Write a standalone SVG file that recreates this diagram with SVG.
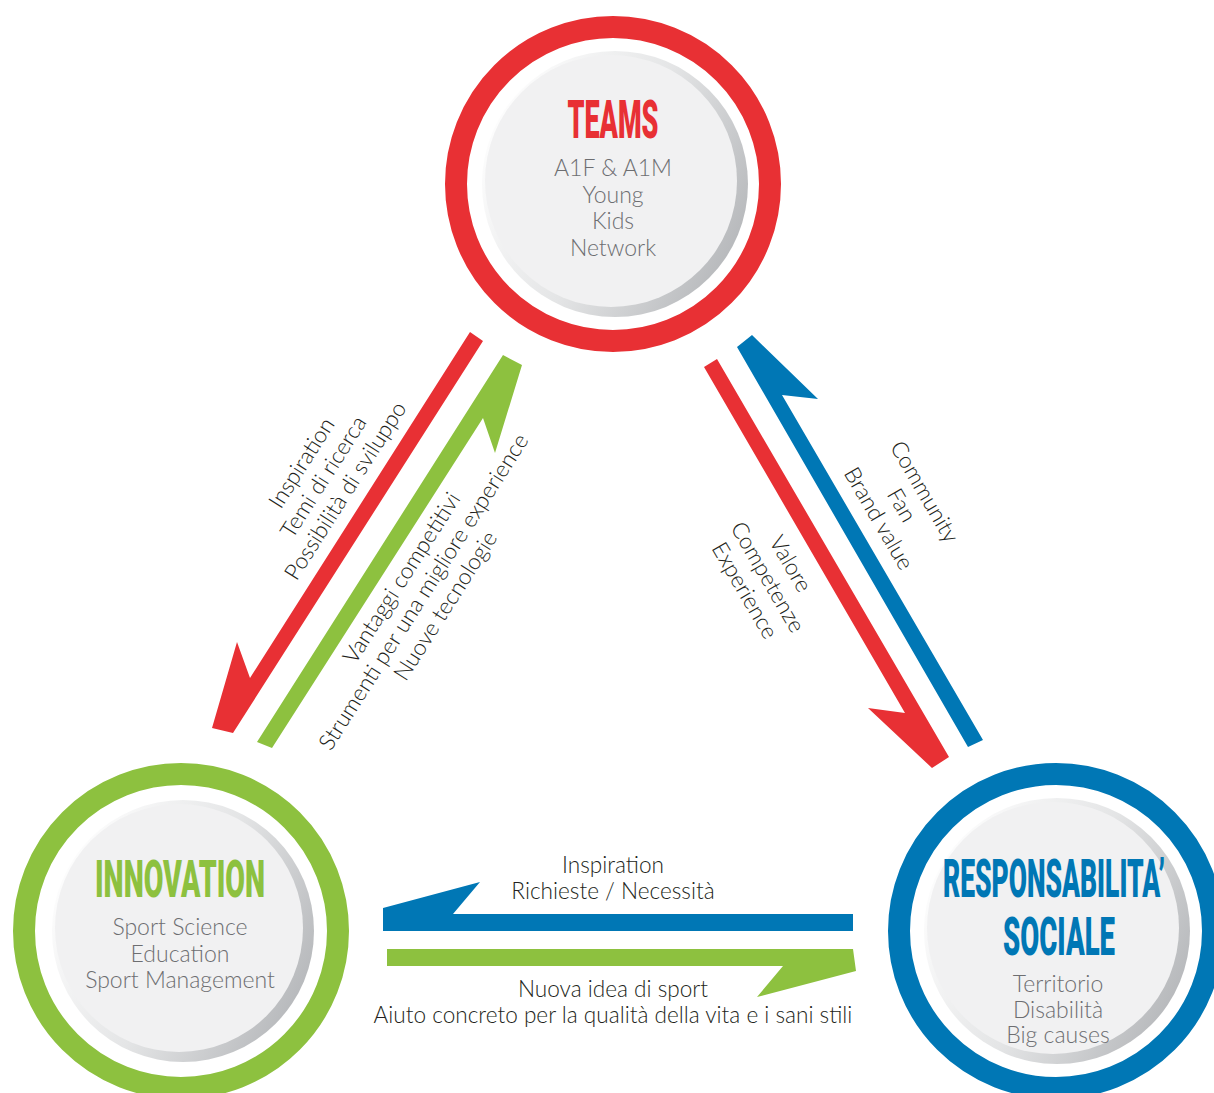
<svg xmlns="http://www.w3.org/2000/svg" width="1214" height="1093" viewBox="0 0 1214 1093">
<style>
.ring{fill:none;stroke-width:22}
.r{stroke:#e83034}.g{stroke:#8dc13f}.b{stroke:#0077b5}
.head{font-family:Roboto,"DejaVu Sans",sans-serif;font-weight:900;text-anchor:middle}
.sub{font-family:Lato,"Open Sans",sans-serif;font-weight:300;font-size:23px;fill:#6d6e71;text-anchor:middle}
.lbl{font-family:Lato,"Open Sans",sans-serif;font-weight:300;font-size:22.6px;fill:#231f20;text-anchor:middle}
</style>
<defs>
<linearGradient id="rim" x1="0" y1="0.25" x2="1" y2="0.75">
<stop offset="0" stop-color="#ffffff"/>
<stop offset="0.5" stop-color="#e4e5e6"/>
<stop offset="1" stop-color="#b3b5b8"/>
</linearGradient>
</defs>
<rect width="1214" height="1093" fill="#ffffff"/>

<g id="teams">
<circle class="ring r" cx="613" cy="184" r="157"/>
<circle cx="615" cy="184" r="133" fill="url(#rim)"/>
<circle cx="611" cy="181" r="126" fill="#f1f1f2"/>
<text class="head" x="613" y="138" font-size="53" fill="#e83034" textLength="91" lengthAdjust="spacingAndGlyphs">TEAMS</text>
<text class="sub" x="613" y="176">A1F &amp; A1M</text>
<text class="sub" x="613" y="202.5">Young</text>
<text class="sub" x="613" y="229">Kids</text>
<text class="sub" x="613" y="255.5">Network</text>
</g>

<g id="innovation">
<circle class="ring g" cx="181" cy="931" r="157"/>
<circle cx="183" cy="931" r="131" fill="url(#rim)"/>
<circle cx="179" cy="928" r="124" fill="#f1f1f2"/>
<text class="head" x="180" y="897" font-size="52" fill="#8dc13f" textLength="170" lengthAdjust="spacingAndGlyphs">INNOVATION</text>
<text class="sub" x="180" y="935" font-size="23.5">Sport Science</text>
<text class="sub" x="180" y="962" font-size="23.5">Education</text>
<text class="sub" x="180" y="988" font-size="23.5">Sport Management</text>
</g>

<g id="responsabilita">
<circle class="ring b" cx="1056" cy="931" r="157"/>
<circle cx="1057" cy="931" r="133" fill="url(#rim)"/>
<circle cx="1053" cy="928" r="126" fill="#f1f1f2"/>
<text class="head" x="1054" y="897" font-size="54" fill="#0077b5" textLength="222" lengthAdjust="spacingAndGlyphs">RESPONSABILITA’</text>
<text class="head" x="1059" y="955" font-size="54" fill="#0077b5" textLength="112" lengthAdjust="spacingAndGlyphs">SOCIALE</text>
<text class="sub" x="1058" y="992">Territorio</text>
<text class="sub" x="1058" y="1018">Disabilità</text>
<text class="sub" x="1058" y="1043">Big causes</text>
</g>

<g id="connectors">
<polygon fill="#e83034" points="470,332 483,341 233,733 212,728 237,642 250,678"/>
<polygon fill="#8dc13f" points="257,742 503,355 522,365 495,453 483,418 272,748"/>
<polygon fill="#e83034" points="704,367 717,359 949,757 932,768 868,708 905,713"/>
<polygon fill="#0077b5" points="968,747 737,347 752,335 818,399 782,395 983,740"/>
<polygon fill="#0077b5" points="853,914 453,914 480,882 383,908 383,931 853,931"/>
<polygon fill="#8dc13f" points="387,949 853,949 856,971 757,997 783,966 387,966"/>
</g>

<g id="labels">
<g transform="translate(330,481) rotate(-57.5)">
<text class="lbl" x="0" y="-26">Inspiration</text>
<text class="lbl" x="0" y="0">Temi di ricerca</text>
<text class="lbl" x="0" y="26">Possibilità di sviluppo</text>
</g>
<g transform="translate(430,596) rotate(-57.5)">
<text class="lbl" x="0" y="-26">Vantaggi competitivi</text>
<text class="lbl" x="0" y="0">Strumenti per una migliore experience</text>
<text class="lbl" x="0" y="26">Nuove tecnologie</text>
</g>
<g transform="translate(895,509) rotate(59.8)">
<text class="lbl" x="0" y="-26.5">Community</text>
<text class="lbl" x="0" y="0">Fan</text>
<text class="lbl" x="0" y="26.5">Brand value</text>
</g>
<g transform="translate(761,581) rotate(59.8)">
<text class="lbl" x="0" y="-26.5">Valore</text>
<text class="lbl" x="0" y="0">Competenze</text>
<text class="lbl" x="0" y="26.5">Experience</text>
</g>
<text class="lbl" x="613" y="873">Inspiration</text>
<text class="lbl" x="613" y="899">Richieste / Necessità</text>
<text class="lbl" x="613" y="997">Nuova idea di sport</text>
<text class="lbl" x="613" y="1023">Aiuto concreto per la qualità della vita e i sani stili</text>
</g>
</svg>
